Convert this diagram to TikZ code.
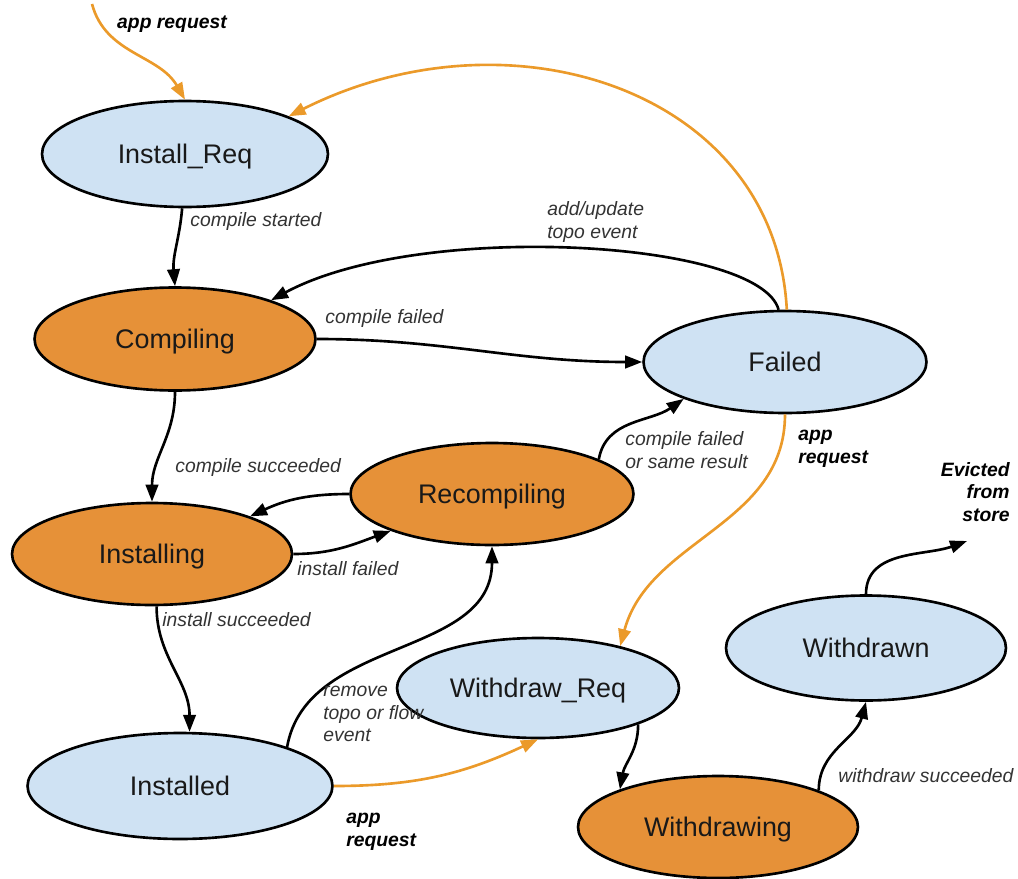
\documentclass[tikz,border=0pt]{standalone}
\usepackage{fontspec}
\setmainfont{Liberation Sans}
\usetikzlibrary{shapes.geometric,arrows.meta}
\definecolor{lblue}{HTML}{CFE2F3}
\definecolor{orfill}{HTML}{E69138}
\definecolor{orline}{HTML}{EB9A2A}
\definecolor{lbl}{HTML}{333333}
\begin{document}
\begin{tikzpicture}[x=0.02cm,y=-0.02cm,
  state/.style={ellipse,draw=black,line width=1.5pt,inner sep=0pt,
    font=\fontsize{15.3}{18}\selectfont,text=black!90,text depth=0pt,yshift=-0.02cm},
  bstate/.style={state,fill=lblue},
  ostate/.style={state,fill=orfill},
  blk/.style={line width=1.5pt,draw=black,-{Triangle[length=0.34cm,width=0.25cm]}},
  org/.style={line width=1.5pt,draw=orline,-{Triangle[length=0.34cm,width=0.25cm]}},
  lab/.style={font=\fontsize{11}{13}\selectfont\itshape,text=lbl,inner sep=0pt,align=left},
  blab/.style={font=\fontsize{11}{13}\selectfont\bfseries\itshape,text=black,inner sep=0pt,align=left}
]
\useasboundingbox (0,0) rectangle (1018,879);

% states
\node[bstate,minimum width=5.72cm,minimum height=2.12cm] (ir) at (185,153) {Install\_Req};
\node[ostate,minimum width=5.62cm,minimum height=2.06cm] (cp) at (175,338) {Compiling};
\node[bstate,minimum width=5.66cm,minimum height=2.04cm] (fl) at (785,361) {Failed};
\node[ostate,minimum width=5.66cm,minimum height=2.04cm] (rc) at (492,493) {Recompiling};
\node[ostate,minimum width=5.60cm,minimum height=2.04cm] (ing) at (152,553) {Installing};
\node[bstate,minimum width=5.64cm,minimum height=2.00cm] (wr) at (538,687) {Withdraw\_Req};
\node[bstate,minimum width=6.10cm,minimum height=2.12cm] (il) at (180,785) {Installed};
\node[bstate,minimum width=5.60cm,minimum height=2.10cm] (wd) at (866,647) {Withdrawn};
\node[ostate,minimum width=5.60cm,minimum height=2.04cm] (wg) at (718,826) {Withdrawing};

\coordinate (s0) at (92,4);
\coordinate (ev) at (967,541);

% connectors
\draw[org] (s0) to[out=-75,in=120] (ir.north);
\draw[org] (fl.88) .. controls (775,90) and (510,5) .. (ir.20);
\draw[blk] (fl.97) .. controls (760,240) and (420,220) .. (cp.22);
\draw[blk] (ir.-93) to[out=-95,in=95] (cp.north);
\draw[blk] (cp.east) to[out=0,in=180] (fl.west);
\draw[blk] (cp.south) to[out=-90,in=90] (ing.north);
\draw[blk] (rc.west) to[out=180,in=25] (ing.21);
\draw[blk] (ing.east) to[out=0,in=200] (rc.200);
\draw[blk] (ing.-85) to[out=-90,in=90] (il.80);
\draw[blk] (il.20) to[out=80,in=-90] (rc.south);
\draw[blk] (rc.18) to[out=80,in=215] (fl.200);
\draw[org] (fl.south) to[out=-90,in=75] (wr.27);
\draw[org] (il.east) to[out=0,in=205] (wr.south);
\draw[blk] (wr.-20) to[out=-90,in=80] (wg.159);
\draw[blk] (wg.20) to[out=90,in=-105] (wd.south);
\draw[blk] (wd.north) to[out=90,in=200] (ev);

% labels
\node[blab] (l1) at (172,24) {app request};
\node[lab,anchor=west] (l2) at (190,222) {compile started};
\node[lab,anchor=west] (l3) at (547,222) {add/update\\topo event};
\node[lab,anchor=west] (l4) at (325,318) {compile failed};
\node[lab,anchor=west] (l5) at (175,467) {compile succeeded};
\node[lab,anchor=west] (l6) at (297,569) {install failed};
\node[lab,anchor=west] (l7) at (162,620) {install succeeded};
\node[lab,anchor=west] (l8) at (323,714) {remove\\topo or flow\\event};
\node[lab,anchor=west] (l9) at (625,450) {compile failed\\or same result};
\node[blab,anchor=west] (l10) at (798,449) {app\\request};
\node[blab,anchor=west] (l11) at (346,832) {app\\request};
\node[lab,anchor=west] (l12) at (838,776) {withdraw succeeded};
\node[blab,anchor=east,align=right] (l13) at (1010,492) {Evicted\\from\\store};
\end{tikzpicture}
\end{document}
